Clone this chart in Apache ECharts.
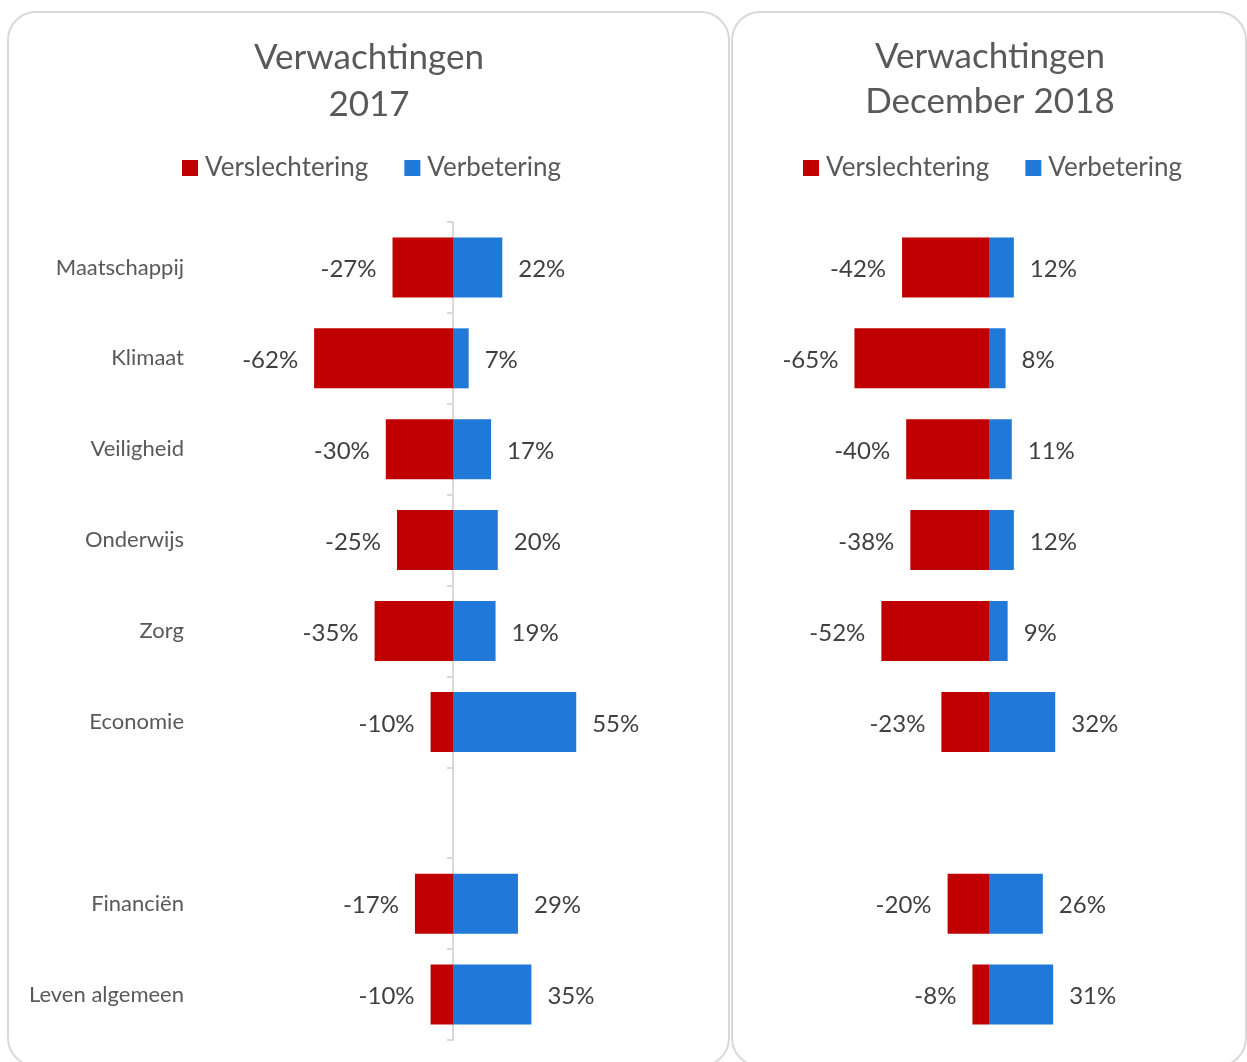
<!DOCTYPE html>
<html>
<head>
<meta charset="utf-8">
<script src="https://cdn.jsdelivr.net/npm/echarts@6/dist/echarts.min.js"></script>
<style>
  html, body { margin: 0; padding: 0; background: #fff; }
  #chart { width: 1247px; height: 1062px; }
</style>
</head>
<body>
<div id="chart"></div>
<script>
// categories top to bottom, '' is the empty gap row
const categories = ['Maatschappij', 'Klimaat', 'Veiligheid', 'Onderwijs', 'Zorg', 'Economie', '', 'Financiën', 'Leven algemeen'];
const worse2017 = [-27, -62, -30, -25, -35, -10, null, -17, -10];
const better2017 = [22, 7, 17, 20, 19, 55, null, 29, 35];
const worse2018 = [-42, -65, -40, -38, -52, -23, null, -20, -8];
const better2018 = [12, 8, 11, 12, 9, 32, null, 26, 31];

const RED = '#C00000';
const BLUE = '#2079D9';
const FONT = 'Lato';

var chart = echarts.init(document.getElementById('chart'));

function barSeries(name, data, color, grid, pos) {
  return {
    name: name,
    type: 'bar',
    stack: 'g' + grid,
    xAxisIndex: grid,
    yAxisIndex: grid === 0 ? 0 : 2,
    data: data,
    barWidth: 60,
    itemStyle: { color: color },
    label: {
      show: true,
      position: pos,
      distance: 16,
      offset: [0, 2],
      fontFamily: FONT,
      fontSize: 24,
      color: '#404040',
      formatter: function (p) { return p.value + '%'; }
    }
  };
}

function legend(x) {
  return {
    data: ['Verslechtering', 'Verbetering'],
    left: x,
    top: 155,
    padding: 0,
    icon: 'rect',
    itemWidth: 16,
    itemHeight: 16,
    itemGap: 36,
    textStyle: { fontFamily: FONT, fontSize: 26, color: '#595959', padding: [0, 0, 0, 2] }
  };
}

chart.setOption({
  animation: false,
  graphic: [
    { type: 'rect', shape: { x: 8, y: 12, width: 721, height: 1054, r: 28 },
      style: { fill: 'none', stroke: '#D9D9D9', lineWidth: 2 } },
    { type: 'rect', shape: { x: 732, y: 12, width: 514, height: 1054, r: 28 },
      style: { fill: 'none', stroke: '#D9D9D9', lineWidth: 2 } }
  ],
  title: [
    { text: 'Verwachtingen\n2017', left: 364, top: 29, textAlign: 'center',
      textStyle: { fontFamily: FONT, fontSize: 35, fontWeight: 'normal', color: '#595959', lineHeight: 47 } },
    { text: 'Verwachtingen\nDecember 2018', left: 985, top: 29, textAlign: 'center',
      textStyle: { fontFamily: FONT, fontSize: 35, fontWeight: 'normal', color: '#595959', lineHeight: 45 } }
  ],
  legend: [legend(182), legend(803)],
  grid: [
    { left: 229, width: 448, top: 222, bottom: 22 },
    { left: 782, width: 414, top: 222, bottom: 22 }
  ],
  xAxis: [
    { type: 'value', gridIndex: 0, min: -100, max: 100, show: false },
    { type: 'value', gridIndex: 1, min: -100, max: 100, show: false }
  ],
  yAxis: [
    // axis line on zero with boundary ticks
    { type: 'category', gridIndex: 0, data: categories, inverse: true, position: 'left',
      axisLine: { show: true, onZero: true, lineStyle: { color: '#D9D9D9', width: 2 } },
      axisTick: { show: true, length: 6, lineStyle: { color: '#D9D9D9', width: 2 } },
      axisLabel: { show: false } },
    // category labels at the left
    { type: 'category', gridIndex: 0, data: categories, inverse: true, position: 'left',
      axisLine: { show: false, onZero: false }, axisTick: { show: false },
      axisLabel: { show: true, margin: 45, fontFamily: FONT, fontSize: 22, color: '#595959' } },
    { type: 'category', gridIndex: 1, data: categories, inverse: true, show: false }
  ],
  series: [
    barSeries('Verslechtering', worse2017, RED, 0, 'left'),
    barSeries('Verbetering', better2017, BLUE, 0, 'right'),
    barSeries('Verslechtering', worse2018, RED, 1, 'left'),
    barSeries('Verbetering', better2018, BLUE, 1, 'right')
  ]
});
</script>
</body>
</html>
